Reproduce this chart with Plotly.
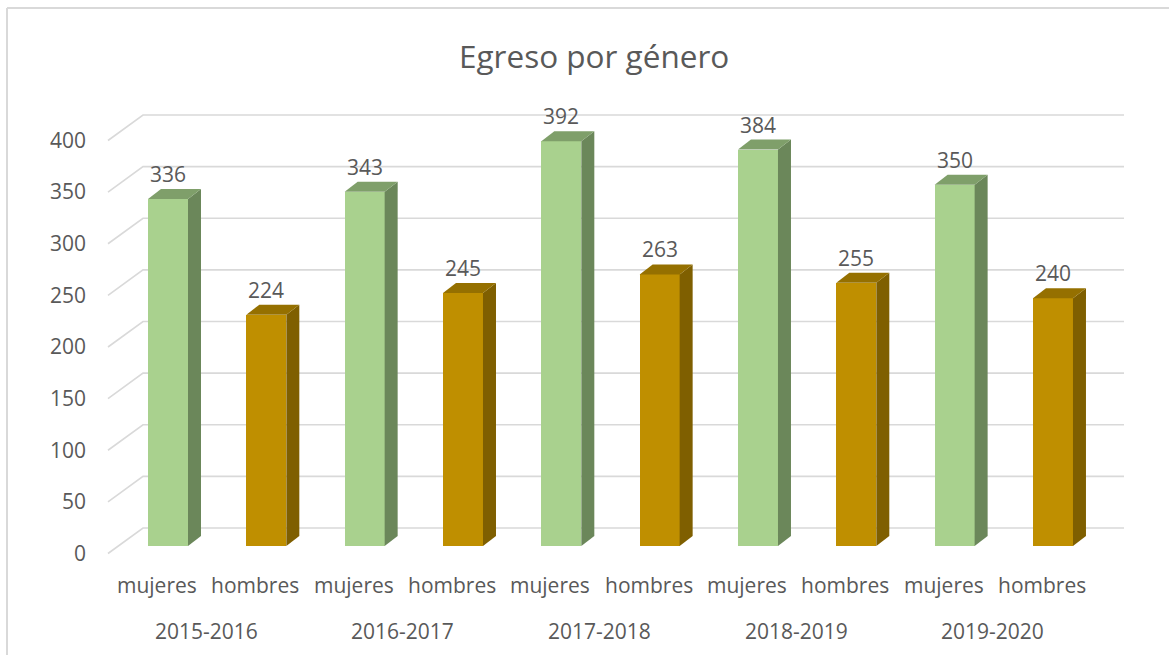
import plotly.graph_objects as go

# ---- data ----
years = ["2015-2016", "2016-2017", "2017-2018", "2018-2019", "2019-2020"]
genders = ["mujeres", "hombres"]
mujeres = [336, 343, 392, 384, 350]
hombres = [224, 245, 263, 255, 240]
y_ticks = [0, 50, 100, 150, 200, 250, 300, 350, 400]

# ---- styles ----
FONT = "Open Sans"
TXT = "#595959"
GRID = "#D9D9D9"
col_front = {"mujeres": "#A9D18E", "hombres": "#BF8F00"}
col_side = {"mujeres": "#6B875A", "hombres": "#7F5F00"}
col_top = {"mujeres": "#7F9F6A", "hombres": "#957000"}

W, H = 1169, 655
L, R, T, B = 100, 39, 95, 95
plot_w = W - L - R
plot_h = H - T - B
px_per_unit = 1.0325      # value -> px
step_px = 98.33           # px per bar slot
first_center_px = 168
zero_bar_px = 546         # bar base
zero_front_px = 553.5     # front plane (labels)
zero_back_px = 528        # back wall

x0 = (L - first_center_px) / step_px
x1 = (L + plot_w - first_center_px) / step_px
y_range = [-(T + plot_h - zero_bar_px) / px_per_unit, (zero_bar_px - T) / px_per_unit]

bar_w = 40 / step_px
dx = 13 / step_px
dy = 10 / px_per_unit
lab_dx = -11 / step_px

front_off = (zero_bar_px - zero_front_px) / px_per_unit   # negative
back_off = (zero_bar_px - zero_back_px) / px_per_unit
gx_front = (108 - first_center_px) / step_px
gx_back = (143 - first_center_px) / step_px
gx_end = (1124 - first_center_px) / step_px

fig = go.Figure()
shapes = []

# gridlines (back wall + side diagonal), drawn below the bars
for v in y_ticks:
    shapes.append(dict(type="path", xref="x", yref="y", layer="below",
                       path=f"M {gx_front},{v + front_off} L {gx_back},{v + back_off} L {gx_end},{v + back_off}",
                       line=dict(color=GRID, width=1.6)))

# bars
positions, values, groups = [], [], []
for i, yr in enumerate(years):
    for j, g in enumerate(genders):
        positions.append(2 * i + j)
        values.append(mujeres[i] if g == "mujeres" else hombres[i])
        groups.append(g)

for g in genders:
    xs = [p for p, gg in zip(positions, groups) if gg == g]
    vs = [v for v, gg in zip(values, groups) if gg == g]
    fig.add_trace(go.Bar(x=xs, y=vs, width=bar_w, marker=dict(color=col_front[g], line=dict(width=0)),
                         showlegend=False, hoverinfo="skip"))
    for x, v in zip(xs, vs):
        xr = x + bar_w / 2
        xl = x - bar_w / 2
        # side face
        fig.add_trace(go.Scatter(
            x=[xr, xr + dx, xr + dx, xr, xr], y=[0, dy, v + dy, v, 0],
            mode="lines", fill="toself", fillcolor=col_side[g],
            line=dict(width=0, color=col_side[g]), hoverinfo="skip", showlegend=False))
        # top face
        fig.add_trace(go.Scatter(
            x=[xl, xr, xr + dx, xl + dx, xl], y=[v, v, v + dy, v + dy, v],
            mode="lines", fill="toself", fillcolor=col_top[g],
            line=dict(width=0, color=col_top[g]), hoverinfo="skip", showlegend=False))

annotations = []
# data labels
for x, v in zip(positions, values):
    annotations.append(dict(x=x, y=v + dy, xref="x", yref="y", text=str(v), showarrow=False,
                            yanchor="middle", yshift=15, font=dict(family=FONT, size=21, color=TXT)))
# category labels
for x, g in zip(positions, groups):
    annotations.append(dict(x=x + lab_dx, y=585, xref="x", yref="paper", text=g, showarrow=False,
                            yanchor="middle", font=dict(family=FONT, size=21, color=TXT)))
for i, yr in enumerate(years):
    annotations.append(dict(x=2 * i + 0.5 + lab_dx, y=631, xref="x", yref="paper", text=yr, showarrow=False,
                            yanchor="middle", font=dict(family=FONT, size=21, color=TXT)))

# convert pixel-y annotations to paper
for a in annotations:
    if a["yref"] == "paper":
        a["y"] = (T + plot_h - a["y"]) / plot_h

# title
annotations.append(dict(x=(594 - L) / plot_w, y=(T + plot_h - 55) / plot_h, xref="paper", yref="paper",
                        text="Egreso por género", showarrow=False, yanchor="middle", xanchor="center",
                        font=dict(family=FONT, size=31.5, color=TXT)))

shapes += [
    dict(type="line", xref="paper", yref="paper",
         x0=(7 - L) / plot_w, x1=(W + 5 - L) / plot_w,
         y0=(T + plot_h - 8) / plot_h, y1=(T + plot_h - 8) / plot_h,
         line=dict(color="#D9D9D9", width=2)),
    dict(type="line", xref="paper", yref="paper",
         x0=(7 - L) / plot_w, x1=(7 - L) / plot_w,
         y0=(T + plot_h - 8) / plot_h, y1=(T + plot_h - H - 5) / plot_h,
         line=dict(color="#D9D9D9", width=2)),
]

# invisible trace on label axis
fig.add_trace(go.Scatter(x=[0], y=[0], yaxis="y2", mode="markers", marker=dict(opacity=0),
                         hoverinfo="skip", showlegend=False))

fig.update_layout(
    width=W, height=H,
    margin=dict(l=L, r=R, t=T, b=B),
    paper_bgcolor="white", plot_bgcolor="white",
    xaxis=dict(range=[x0, x1], visible=False),
    yaxis=dict(range=y_range, visible=False),
    yaxis2=dict(overlaying="y", side="left",
                range=[y_range[0] - front_off, y_range[1] - front_off],
                tickvals=y_ticks, ticktext=[str(t) for t in y_ticks],
                showgrid=False, zeroline=False, showline=False, ticks="",
                ticklabelstandoff=13,
                tickfont=dict(family=FONT, size=21, color=TXT)),
    annotations=annotations, shapes=shapes,
    bargap=0, showlegend=False, hovermode=False,
)

fig.write_html("out.html", config={"displayModeBar": False},
               post_script="document.body.style.margin='0';document.body.style.overflow='hidden';")
